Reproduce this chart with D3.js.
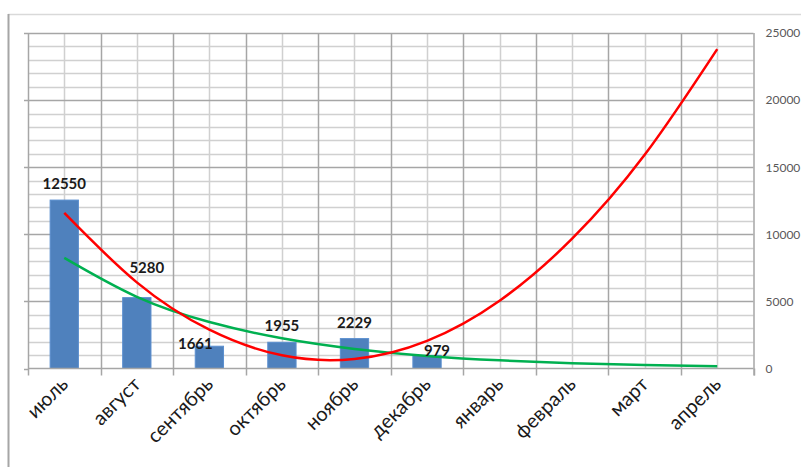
<!DOCTYPE html>
<html><head><meta charset="utf-8">
<script src="https://cdn.jsdelivr.net/npm/d3@7/dist/d3.min.js"></script>
<style>html,body{margin:0;padding:0;background:#fff;overflow:hidden}</style>
</head><body>
<svg id="c" width="801" height="467"></svg>
<script>
const months = ["июль","август","сентябрь","октябрь","ноябрь","декабрь","январь","февраль","март","апрель"];
const barValues = [12550, 5280, 1661, 1955, 2229, 979];
const polyTrend = [11590, 6420, 2890, 980, 710, 2060, 5050, 9670, 15920, 23800];
const expTrend = [8240, 5340, 3460, 2250, 1460, 940, 610, 400, 260, 170];
const yTicks = [0, 5000, 10000, 15000, 20000, 25000];

const svg = d3.select("#c");
const L = 28, R = 753.5, T = 33, B = 368.5;
const x = d3.scaleBand().domain(months).range([L, R]).paddingInner(0.61).paddingOuter(0.305);
const step = x.step();
const xc = d => x(d) + x.bandwidth() / 2;
const y = d3.scaleLinear().domain([0, 25000]).range([B, T]);

// outer frame
svg.append("line").attr("x1", 8).attr("x2", 801).attr("y1", 14.5).attr("y2", 14.5).attr("stroke", "#d9d9d9").attr("stroke-width", 1.5);
svg.append("line").attr("x1", 8.5).attr("x2", 8.5).attr("y1", 14).attr("y2", 467).attr("stroke", "#a6a6a6").attr("stroke-width", 2);

const g = svg.append("g");
const minor = d3.range(1000, 25001, 1000).filter(v => v % 5000 !== 0);
g.selectAll(".hmin").data(minor).join("line")
  .attr("x1", L).attr("x2", R).attr("y1", d => Math.round(y(d)) + 0.5).attr("y2", d => Math.round(y(d)) + 0.5)
  .attr("stroke", "#d0d0d0").attr("stroke-width", 1.5);
g.selectAll(".vmin").data(months).join("line")
  .attr("x1", d => Math.round(xc(d)) + 0.5).attr("x2", d => Math.round(xc(d)) + 0.5).attr("y1", T).attr("y2", B)
  .attr("stroke", "#d0d0d0").attr("stroke-width", 1.5);
g.selectAll(".hmaj").data(yTicks.filter(v => v > 0)).join("line")
  .attr("x1", L).attr("x2", R).attr("y1", d => Math.round(y(d)) + 0.5).attr("y2", d => Math.round(y(d)) + 0.5)
  .attr("stroke", "#a6a6a6").attr("stroke-width", 1.5);
const bounds = d3.range(0, months.length).map(i => L + i * step);
g.selectAll(".vmaj").data(bounds).join("line")
  .attr("x1", d => Math.round(d) + 0.5).attr("x2", d => Math.round(d) + 0.5).attr("y1", T).attr("y2", B)
  .attr("stroke", "#a6a6a6").attr("stroke-width", 1.5);
g.selectAll(".lt").data(yTicks).join("line")
  .attr("x1", L - 4).attr("x2", L).attr("y1", d => Math.round(y(d)) + 0.5).attr("y2", d => Math.round(y(d)) + 0.5)
  .attr("stroke", "#a6a6a6").attr("stroke-width", 1.5);

// bars
g.selectAll(".bar").data(barValues).join("rect")
  .attr("x", (d, i) => x(months[i])).attr("width", x.bandwidth())
  .attr("y", d => y(d)).attr("height", d => B - y(d))
  .attr("fill", "#4f81bd").attr("stroke", "#5b8fcf").attr("stroke-width", 1);

// x axis line & ticks
g.append("line").attr("x1", L).attr("x2", R).attr("y1", B).attr("y2", B).attr("stroke", "#a6a6a6").attr("stroke-width", 1.5);
g.selectAll(".bt").data(bounds.concat([R])).join("line")
  .attr("x1", d => Math.round(d) + 0.5).attr("x2", d => Math.round(d) + 0.5).attr("y1", B).attr("y2", B + 7)
  .attr("stroke", "#a6a6a6").attr("stroke-width", 1.5);

// right axis
const yAxis = d3.axisRight(y).tickValues(yTicks).tickSize(0).tickPadding(12).tickFormat(d3.format("d"));
const ax = svg.append("g").attr("transform", `translate(${R},0)`).call(yAxis);
ax.select(".domain").attr("stroke", "#a6a6a6").attr("stroke-width", 1.5).attr("d", `M0.5,${T}V${B + 7}`);
ax.selectAll("text").attr("font-family", "Lato, 'Open Sans', sans-serif").attr("font-size", 12).attr("fill", "#595959");

// trend lines
const line = d3.line().x((d, i) => xc(months[i])).y(d => y(d)).curve(d3.curveNatural);
svg.append("path").datum(expTrend).attr("d", line).attr("fill", "none").attr("stroke", "#00b050").attr("stroke-width", 2.5);
svg.append("path").datum(polyTrend).attr("d", line).attr("fill", "none").attr("stroke", "#ff0000").attr("stroke-width", 2.5);

// data labels (some were hand-moved in the original)
const nudge = [[0, 0], [10, -14], [-14, 14], [0, 0], [0, 0], [10, 12]];
svg.selectAll(".dl").data(barValues).join("text")
  .attr("x", (d, i) => xc(months[i]) + nudge[i][0]).attr("y", (d, i) => y(d) - 11 + nudge[i][1])
  .attr("text-anchor", "middle").attr("font-family", "Lato, 'Open Sans', sans-serif")
  .attr("font-weight", "bold").attr("font-size", 15).attr("fill", "#1a1a1a")
  .text(d => d);

// category labels
svg.selectAll(".cl").data(months).join("text")
  .attr("transform", d => `translate(${xc(d) + 5},${B + 17}) rotate(-45)`)
  .attr("text-anchor", "end").attr("font-family", "Lato, 'Open Sans', sans-serif")
  .attr("font-size", 20).attr("fill", "#1a1a1a")
  .text(d => d);
</script>
</body></html>
